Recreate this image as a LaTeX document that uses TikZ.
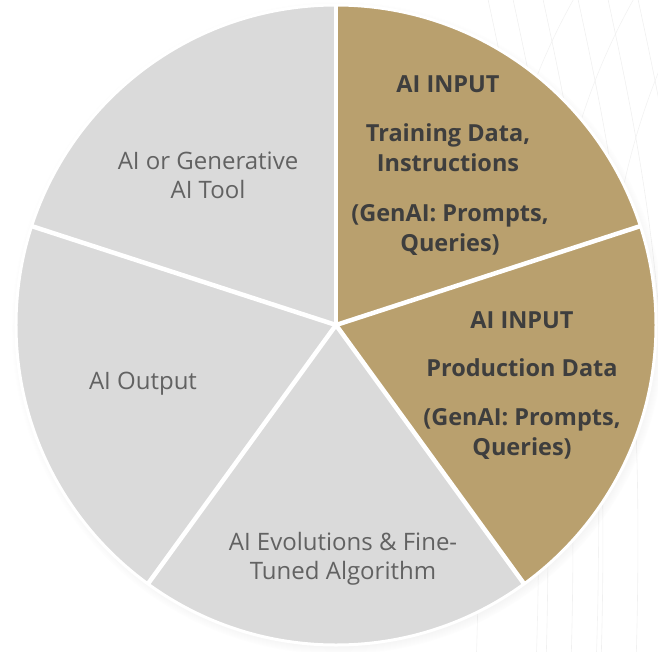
\documentclass[tikz,border=0pt]{standalone}
\usepackage{fontspec}
\setmainfont{Open Sans}
\usetikzlibrary{shadows}
\definecolor{goldc}{RGB}{185,160,110}
\definecolor{greyc}{RGB}{218,218,218}
\definecolor{txtlt}{RGB}{98,98,98}
\definecolor{txtdk}{RGB}{62,62,62}

\begin{document}
\begin{tikzpicture}[x=1pt,y=1pt,
  slicegrey/.style={fill=greyc},
  slicegold/.style={fill=goldc},
  sep/.style={draw=white,line width=4.5pt},
  lbl/.style={align=center,text=txtlt,font=\fontsize{24}{29}\selectfont},
  inlbl/.style={align=center,text=txtdk,font=\bfseries\fontsize{23.5}{30}\selectfont}]
\useasboundingbox (-336,-326) rectangle (322,325);
% ---- faint background strokes on the right ----
\begin{scope}
\clip (-336,-326) rectangle (322,325);
\foreach \dx in {150,175,205,240,270,300}
  \draw[black!6,line width=0.6pt] (\dx,335) .. controls (\dx+40,150) and (\dx+70,0) .. (\dx+60,-340);
\foreach \dx in {120,180,240}
  \draw[black!5,line width=0.6pt] (\dx+120,330) .. controls (\dx,120) and (\dx+30,-100) .. (\dx+20,-340);
\end{scope}
% ---- pie: five equal slices, starting at twelve o'clock ----
\fill[white,circular drop shadow={shadow xshift=2pt,shadow yshift=-3pt,opacity=0.4,shadow scale=1.02}]
  (0,0) circle (320);
\fill[slicegold] (0,0) -- (18:320) arc (18:90:320) -- cycle;
\fill[slicegold] (0,0) -- (-54:320) arc (-54:18:320) -- cycle;
\fill[slicegrey] (0,0) -- (-126:320) arc (-126:-54:320) -- cycle;
\fill[slicegrey] (0,0) -- (162:320) arc (162:234:320) -- cycle;
\fill[slicegrey] (0,0) -- (90:320) arc (90:162:320) -- cycle;
\coordinate (c) at (0,0);
\foreach \a/\n in {90/pa,18/pb,-54/pc,-126/pd,162/pe} {
  \coordinate (\n) at (\a:320);
  \draw[sep] (c) -- (\n);
}
\draw[white,line width=3pt] (c) circle (320);
% ---- grey slice labels ----
\node[lbl] (tool) at (-128,150) {AI or Generative\\AI Tool};
\node[lbl] (out) at (-193,-59) {AI Output};
\node[lbl] (evo) at (7,-234) {AI Evolutions \& Fine-\\Tuned Algorithm};
% ---- gold slice labels ----
\node[inlbl] (in1) at (112,241) {AI INPUT};
\node[inlbl] (train) at (112,177) {Training Data,\\Instructions};
\node[inlbl] (gen1) at (114,95) {(GenAI: Prompts,\\Queries)};
\node[inlbl] (in2) at (186,5) {AI INPUT};
\node[inlbl] (prod) at (186,-43) {Production Data};
\node[inlbl] (gen2) at (186,-109) {(GenAI: Prompts,\\Queries)};
\end{tikzpicture}
\end{document}
